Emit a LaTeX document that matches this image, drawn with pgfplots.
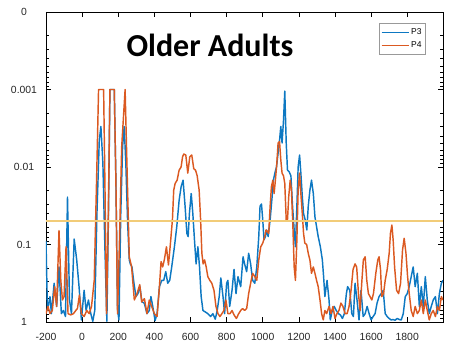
\documentclass[border=0pt]{standalone}
\usepackage{pgfplots}
\usepackage{pgfplotstable}
\pgfplotsset{compat=1.18}
\usepackage{fontspec}
\setmainfont{Liberation Sans}
\newfontfamily\titlefont{Carlito}

\definecolor{mblue}{rgb}{0.05,0.47,0.76}
\definecolor{morange}{rgb}{0.86,0.35,0.13}
\definecolor{thresh}{rgb}{0.95,0.80,0.47}

% p-values over time (ms), electrode P3
\pgfplotstableread{
t p
-200 0.09
-192 0.71
-178 0.47
-170 0.78
-155 0.316
-141 0.63
-128 0.195
-115 0.78
-104 0.71
-92 0.85
-81 0.0245
-70 0.52
-59 0.78
-44 0.085
-30 0.158
-17 0.35
-4 0.94
11 0.39
22 0.71
35 0.52
48 0.78
59 0.98
70 0.71
82 0.04
95 0.0045
104 0.003
115 0.009
126 0.107
137 0.98
146 0.04
154 0.001
166 0.001
178 0.001
187 0.0148
196 0.7
204 0.94
214 0.04
224 0.0055
233 0.003
242 0.009
252 0.053
261 0.158
267 0.178
276 0.195
287 0.316
298 0.47
309 0.43
320 0.35
331 0.55
344 0.57
359 0.78
372 0.71
381 0.47
391 0.63
404 0.96
415 0.78
428 0.35
441 0.29
452 0.29
463 0.224
474 0.316
485 0.29
496 0.195
511 0.107
524 0.059
537 0.027
548 0.018
559 0.0148
570 0.032
580 0.072
587 0.079
594 0.04
604 0.022
613 0.04
622 0.087
631 0.178
641 0.107
650 0.195
659 0.47
669 0.71
681 0.74
696 0.78
711 0.85
724 0.78
737 0.92
748 0.71
759 0.47
768 0.27
780 0.47
789 0.78
800 0.316
807 0.29
817 0.63
830 0.39
841 0.21
852 0.43
863 0.26
878 0.35
891 0.144
900 0.18
911 0.224
922 0.13
933 0.178
944 0.29
956 0.316
967 0.195
978 0.079
985 0.032
993 0.03
1000 0.048
1007 0.087
1015 0.079
1022 0.065
1030 0.079
1041 0.048
1052 0.024
1059 0.0148
1067 0.012
1076 0.01
1085 0.0066
1094 0.0043
1100 0.003
1107 0.0049
1115 0.0025
1122 0.00105
1130 0.0049
1137 0.011
1146 0.0115
1156 0.013
1165 0.032
1174 0.065
1181 0.107
1189 0.032
1196 0.01
1204 0.007
1211 0.012
1219 0.024
1226 0.04
1235 0.048
1244 0.065
1252 0.032
1261 0.02
1270 0.0148
1280 0.022
1289 0.044
1298 0.059
1307 0.079
1319 0.107
1330 0.158
1337 0.26
1344 0.47
1356 0.29
1367 0.52
1374 0.94
1385 0.71
1396 0.63
1407 0.71
1419 0.78
1430 0.81
1441 0.9
1452 0.78
1463 0.43
1470 0.35
1482 0.39
1493 0.78
1502 0.85
1511 0.316
1522 0.52
1533 0.94
1544 0.39
1556 0.85
1567 0.78
1578 0.63
1589 0.78
1600 0.94
1611 0.85
1622 0.78
1633 0.57
1644 0.47
1656 0.43
1667 0.39
1678 0.78
1689 0.85
1700 0.9
1711 0.94
1722 0.93
1733 0.95
1744 0.9
1756 0.93
1767 0.94
1778 0.78
1789 0.47
1800 0.43
1811 0.35
1822 0.26
1833 0.195
1844 0.35
1856 0.235
1867 0.63
1878 0.35
1889 0.63
1900 0.26
1911 0.52
1922 0.78
1933 0.63
1944 0.52
1956 0.47
1967 0.78
1978 0.43
1989 0.316
1998 0.29
}\pthree

% p-values over time (ms), electrode P4
\pgfplotstableread{
t p
-200 0.78
-189 0.63
-178 0.78
-165 0.71
-152 0.35
-141 0.63
-128 0.066
-118 0.29
-109 0.52
-100 0.47
-89 0.107
-78 0.78
-63 0.81
-48 0.78
-35 0.71
-26 0.67
-15 0.45
-4 0.78
11 0.85
26 0.71
39 0.78
52 0.63
67 0.29
80 0.0148
91 0.001
104 0.001
119 0.001
126 0.0148
135 0.78
145 0.04
154 0.001
166 0.001
178 0.001
187 0.0148
196 0.78
206 0.107
219 0.0055
238 0.001
248 0.009
261 0.144
274 0.195
289 0.52
304 0.43
319 0.33
330 0.55
345 0.5
359 0.78
372 0.52
385 0.63
400 0.78
415 0.85
428 0.35
437 0.166
446 0.195
455 0.158
467 0.107
478 0.184
489 0.096
500 0.048
507 0.02
515 0.0163
526 0.0148
537 0.011
548 0.01
556 0.0074
563 0.0068
574 0.007
585 0.012
596 0.0074
607 0.007
618 0.0105
628 0.011
637 0.013
648 0.02
656 0.048
663 0.13
670 0.178
678 0.158
687 0.195
696 0.26
707 0.29
718 0.316
730 0.39
741 0.63
752 0.78
763 0.85
774 0.78
785 0.71
796 0.52
807 0.78
819 0.78
830 0.71
841 0.81
854 0.9
867 0.78
878 0.71
889 0.67
900 0.71
911 0.67
922 0.43
933 0.316
944 0.235
956 0.26
967 0.29
978 0.158
989 0.107
1000 0.096
1011 0.079
1018 0.065
1026 0.068
1033 0.072
1041 0.032
1048 0.018
1056 0.0148
1063 0.022
1070 0.0148
1078 0.009
1085 0.0049
1093 0.0047
1100 0.0081
1107 0.012
1115 0.013
1122 0.0163
1130 0.048
1137 0.048
1144 0.024
1152 0.0148
1159 0.02
1167 0.059
1174 0.195
1181 0.29
1189 0.087
1196 0.02
1204 0.012
1211 0.022
1219 0.04
1226 0.072
1233 0.096
1243 0.1
1252 0.13
1261 0.158
1270 0.235
1280 0.195
1289 0.235
1298 0.29
1307 0.35
1317 0.52
1326 0.78
1335 0.94
1344 0.71
1354 0.78
1367 0.63
1378 0.78
1389 0.63
1400 0.9
1411 0.78
1422 0.71
1433 0.57
1444 0.63
1456 0.78
1467 0.78
1478 0.63
1489 0.39
1500 0.21
1511 0.178
1520 0.195
1530 0.43
1539 0.71
1548 0.316
1557 0.158
1567 0.144
1576 0.29
1585 0.43
1594 0.47
1604 0.52
1613 0.43
1626 0.235
1637 0.158
1644 0.144
1652 0.21
1659 0.47
1669 0.43
1678 0.29
1689 0.21
1700 0.13
1707 0.072
1715 0.056
1722 0.087
1730 0.195
1741 0.39
1752 0.43
1763 0.316
1774 0.118
1783 0.083
1793 0.13
1802 0.26
1811 0.43
1822 0.71
1833 0.85
1844 0.63
1856 0.78
1867 0.71
1878 0.52
1889 0.78
1900 0.52
1911 0.71
1922 0.94
1933 0.78
1944 0.71
1956 0.85
1967 0.63
1978 0.71
1989 0.47
1998 0.52
}\pfour

\begin{document}
\begin{tikzpicture}
\useasboundingbox (-46pt,-23pt) rectangle (404pt,322pt);
\begin{axis}[
  at={(0,0)}, anchor=south west,
  scale only axis,
  width=397pt, height=310pt,
  xmin=-200, xmax=1998,
  ymode=log, ymin=1e-4, ymax=1,
  y dir=reverse,
  xtick={-200,0,200,400,600,800,1000,1200,1400,1600,1800},
  xticklabels={-200,0,200,400,600,800,1000,1200,1400,1600,1800},
  ytick={1,0.1,0.01,0.001,0.0001},
  yticklabels={1,0.1,0.01,0.001,0},
  minor ytick={2e-4,3e-4,4e-4,5e-4,6e-4,7e-4,8e-4,9e-4,
               2e-3,3e-3,4e-3,5e-3,6e-3,7e-3,8e-3,9e-3,
               2e-2,3e-2,4e-2,5e-2,6e-2,7e-2,8e-2,9e-2,
               0.2,0.3,0.4,0.5,0.6,0.7,0.8,0.9},
  tick align=inside,
  major tick length=5pt, minor tick length=3pt,
  tick style={black, line width=0.6pt},
  axis line style={black, line width=0.8pt},
  tick label style={font=\fontsize{10.4}{12}\selectfont, text=black!85},
  yticklabel style={anchor=center, xshift=-22pt},
  xticklabel style={anchor=center, yshift=-15pt},
  legend style={at={(rel axis cs:1,1)}, anchor=north east,
    xshift=-17pt, yshift=-11pt,
    draw=gray!80, line width=0.8pt, fill=white,
    font=\fontsize{8.5}{10}\selectfont,
    inner xsep=2pt, inner ysep=3pt, row sep=2pt,
    cells={anchor=west}},
  legend image code/.code={\draw[#1, line width=1pt] (0pt,0pt) -- (27pt,0pt);},
  every axis plot/.append style={line width=1.45pt, line join=round},
]
\addplot[draw=mblue] table[x=t, y=p] {\pthree};
\addlegendentry{P3}
\addplot[draw=morange] table[x=t, y=p] {\pfour};
\addlegendentry{P4}
% significance threshold p = 0.05
\addplot[draw=thresh, line width=1.5pt, forget plot] coordinates {(-200,0.05) (1998,0.05)};
\node[anchor=base, font=\titlefont\bfseries\fontsize{32}{36}\selectfont]
  at (rel axis cs:0.413,0.855) {Older Adults};
\end{axis}
\end{tikzpicture}
\end{document}
